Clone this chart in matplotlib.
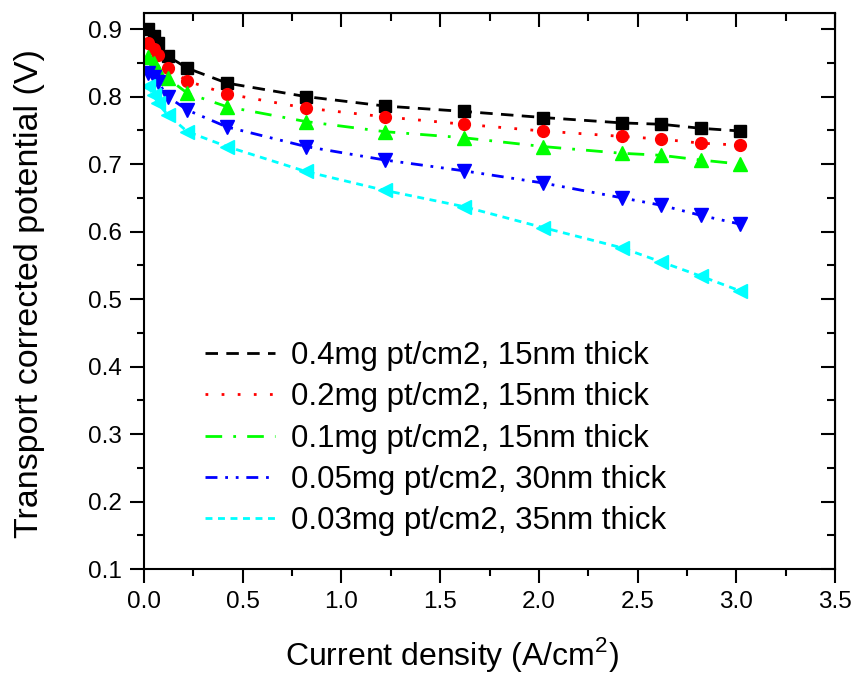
import matplotlib
matplotlib.use("Agg")
import matplotlib.pyplot as plt
from matplotlib.ticker import MultipleLocator

plt.rcParams['font.family'] = ['Liberation Sans', 'DejaVu Sans']
plt.rcParams['mathtext.fontset'] = 'custom'
plt.rcParams['mathtext.rm'] = 'Liberation Sans'

# current density (A/cm2), same for every sample
current = [0.02, 0.05, 0.07, 0.12, 0.22, 0.42, 0.82, 1.22, 1.62, 2.02, 2.42, 2.62, 2.82, 3.02]

# transport corrected potential (V)
v_04 = [0.900, 0.890, 0.879, 0.860, 0.842, 0.820, 0.800, 0.786, 0.778, 0.769, 0.761, 0.759, 0.753, 0.749]
v_02 = [0.879, 0.870, 0.862, 0.842, 0.823, 0.804, 0.783, 0.770, 0.759, 0.749, 0.741, 0.737, 0.731, 0.728]
v_01 = [0.859, 0.850, 0.838, 0.827, 0.805, 0.785, 0.763, 0.748, 0.739, 0.726, 0.716, 0.713, 0.706, 0.700]
v_005 = [0.835, 0.829, 0.822, 0.800, 0.780, 0.755, 0.726, 0.706, 0.690, 0.672, 0.650, 0.639, 0.624, 0.611]
v_003 = [0.815, 0.802, 0.790, 0.773, 0.748, 0.726, 0.689, 0.661, 0.637, 0.606, 0.576, 0.555, 0.534, 0.512]

labels = ['0.4mg pt/cm2, 15nm thick',
          '0.2mg pt/cm2, 15nm thick',
          '0.1mg pt/cm2, 15nm thick',
          '0.05mg pt/cm2, 30nm thick',
          '0.03mg pt/cm2, 35nm thick']

series = [v_04, v_02, v_01, v_005, v_003]
colors = ['#000000', '#ff0000', '#00ff00', '#0000ff', '#00ffff']
markers = ['s', 'o', '^', 'v', '<']
msizes = [8, 8.5, 10, 10, 10]
dashes = [(4.5, 3), (1, 4.8), (6, 4, 1, 4), (4.3, 2.8, 1, 2.8, 1, 2.8), (2.5, 2)]

fig = plt.figure(figsize=(8.54, 6.79), dpi=100)
ax = fig.add_axes([0.1686, 0.162, 0.8092, 0.819])

lines = []
for y, c, m, ms, d, lab in zip(series, colors, markers, msizes, dashes, labels):
    ax.plot(current, y, linestyle='none', marker=m, markersize=ms, color=c)
    ln, = ax.plot(current, y, color=c, lw=2, dashes=d, label=lab)
    lines.append(ln)

ax.set_xlim(0, 3.5)
ax.set_ylim(0.1, 0.924)
ax.xaxis.set_major_locator(MultipleLocator(0.5))
ax.xaxis.set_minor_locator(MultipleLocator(0.25))
ax.yaxis.set_major_locator(MultipleLocator(0.1))
ax.yaxis.set_minor_locator(MultipleLocator(0.05))
ax.tick_params(which='major', direction='out', length=10, width=1.5, labelsize=17.5, pad=6)
ax.tick_params(which='minor', direction='out', length=5, width=1.5)
for s in ax.spines.values():
    s.set_linewidth(1.5)

# mirrored ticks pointing inwards on top and right
secx = ax.secondary_xaxis('top')
secx.xaxis.set_major_locator(MultipleLocator(0.5))
secx.xaxis.set_minor_locator(MultipleLocator(0.25))
secx.tick_params(which='both', direction='in', width=1.5, labeltop=False)
secx.tick_params(which='major', length=10)
secx.tick_params(which='minor', length=6)
secy = ax.secondary_yaxis('right')
secy.yaxis.set_major_locator(MultipleLocator(0.1))
secy.yaxis.set_minor_locator(MultipleLocator(0.05))
secy.tick_params(which='both', direction='in', width=1.5, labelright=False)
secy.tick_params(which='major', length=10)
secy.tick_params(which='minor', length=6)

ax.set_xlabel('Current density (A/cm$^2$)', fontsize=23)
ax.set_ylabel('Transport corrected potential (V)', fontsize=24.5)
ax.xaxis.set_label_coords(0.446, -0.118)
ax.yaxis.set_label_coords(-0.143, 0.495)

ax.legend(handles=lines, loc='upper left', bbox_to_anchor=(0.088, 0.41),
          frameon=False, fontsize=22.5, handlelength=2.25, handletextpad=0.5,
          labelspacing=0.36, borderpad=0, borderaxespad=0)

fig.savefig('out.png', dpi=100)
